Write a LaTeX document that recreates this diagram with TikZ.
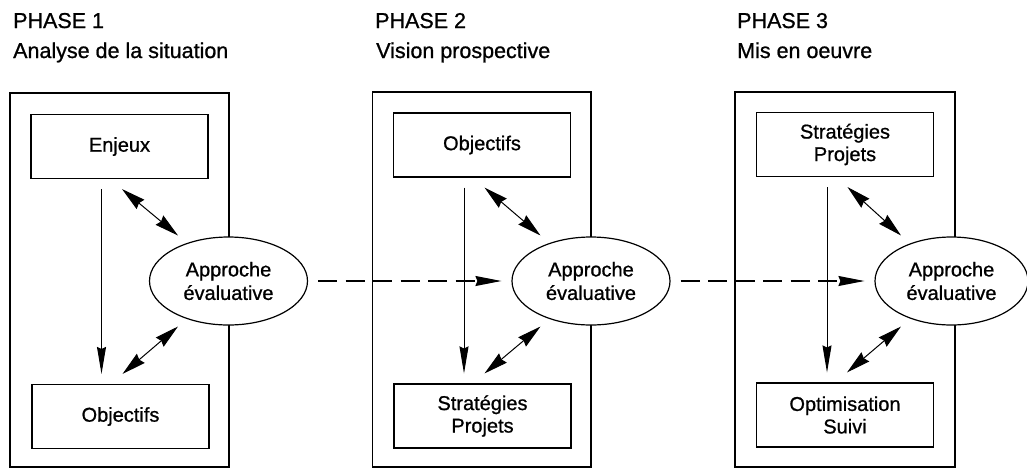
\documentclass[tikz,border=0pt]{standalone}
\usepackage{fontspec}
\setmainfont{Liberation Sans}[BoldFont=Liberation Sans, BoldFeatures={FakeBold=0.9}]
\usetikzlibrary{shapes.geometric,arrows.meta,calc}

\tikzset{
  phasetitle/.style={anchor=base west, inner sep=0pt, font=\fontsize{21.5}{24}\selectfont\bfseries},
  phaseframe/.style={draw, line width=1.1pt},
  stagebox/.style={draw, line width=1.1pt, minimum width=177pt, minimum height=64pt,
    inner sep=0pt, align=center, font=\fontsize{20}{22.5}\selectfont\bfseries},
  evalnode/.style={draw, ellipse, line width=1.2pt, minimum width=158pt, minimum height=88pt,
    inner sep=0pt, align=center, fill=white, font=\fontsize{20}{23.5}\selectfont\bfseries},
  flowarrow/.style={line width=1pt, -{Stealth[length=27pt, width=9pt, inset=2pt]}},
  linkarrow/.style={line width=1pt,
    {Stealth[length=24pt, width=12pt, inset=2pt]}-{Stealth[length=24pt, width=12pt, inset=2pt]}},
  nextarrow/.style={line width=1.1pt, dash pattern=on 19pt off 8.5pt,
    -{Stealth[length=26pt, width=10pt, inset=2pt]}, shorten <=10pt, shorten >=10pt}
}

\begin{document}
\begin{tikzpicture}[x=1pt, y=-1pt]
  \useasboundingbox (0,0) rectangle (1027,469);

  % headings
  \node[phasetitle] (h1) at (13,28) {PHASE 1};
  \node[phasetitle] (s1) at (13,58) {Analyse de la situation};
  \node[phasetitle] (h2) at (375,28) {PHASE 2};
  \node[phasetitle] (s2) at (376,58) {Vision prospective};
  \node[phasetitle] (h3) at (737,28) {PHASE 3};
  \node[phasetitle] (s3) at (737,58) {Mis en oeuvre};

  % phase frames
  \draw[phaseframe] (10,93) rectangle (229,467);
  \draw[phaseframe] (372.5,92) rectangle (591,467);
  \draw[phaseframe] (735,92) rectangle (955,467);

  % stages
  \node[stagebox] (top1) at (119.5,146.5) {Enjeux};
  \node[stagebox] (bot1) at (120.5,416.5) {Objectifs};
  \node[stagebox] (top2) at (482,145) {Objectifs};
  \node[stagebox] (bot2) at (482.5,416) {Stratégies\\Projets};
  \node[stagebox] (top3) at (845,144.5) {Stratégies\\Projets};
  \node[stagebox] (bot3) at (845,415) {Optimisation\\Suivi};

  % evaluation ellipses
  \node[evalnode] (ev1) at (228.5,281) {Approche\\évaluative};
  \node[evalnode] (ev2) at (591,281) {Approche\\évaluative};
  \node[evalnode, minimum width=153pt] (ev3) at (951.5,281) {Approche\\évaluative};

  % arrows inside each phase
  \foreach \i in {1,2,3} {
    \coordinate (vs\i) at ($(top\i.south)+(-18,10)$);
    \coordinate (ve\i) at ($(top\i.south |- bot\i.north)+(-18,-10)$);
    \draw[flowarrow] (vs\i) -- (ve\i);
    \coordinate (us\i) at ($(top\i.south)+(2.5,10)$);
    \coordinate (ue\i) at ($(ev\i.center)+(-50.5,-45.5)$);
    \draw[linkarrow] (us\i) -- (ue\i);
    \coordinate (ls\i) at ($(ev\i.center)+(-50.5,45.5)$);
    \coordinate (le\i) at ($(bot\i.north)+(2,-10)$);
    \draw[linkarrow] (ls\i) -- (le\i);
  }

  % transitions between phases
  \draw[nextarrow] (ev1) -- (ev2);
  \draw[nextarrow] (ev2) -- (ev3);
\end{tikzpicture}
\end{document}
